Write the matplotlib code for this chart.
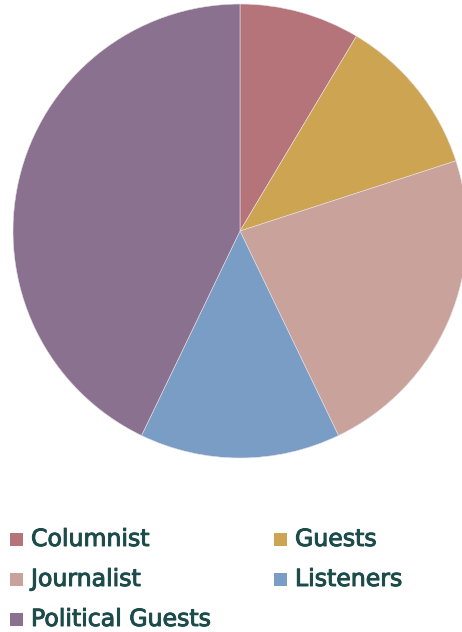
import matplotlib.pyplot as plt
import matplotlib.patheffects as pe
from matplotlib.patches import Rectangle

# share of each group
labels = ['Columnist', 'Guests', 'Journalist', 'Listeners', 'Political Guests']
values = [6, 8, 16, 10, 30]
colors = ['#b5737a', '#cca452', '#c9a39b', '#7a9dc5', '#89718f']

W, H = 462, 632
fig = plt.figure(figsize=(W / 100, H / 100), dpi=100)

# pie axes: square box in pixels, runs a little past the right edge
cx, cy, r = 240, 231, 227
ax = fig.add_axes([(cx - r) / W, (H - cy - r) / H, 2 * r / W, 2 * r / H])
ax.pie(values, colors=colors, startangle=90, counterclock=False, radius=1,
       wedgeprops=dict(edgecolor='#e8e0e4', linewidth=0.4))
ax.set_xlim(-1, 1)
ax.set_ylim(-1, 1)
ax.axis('off')

# legend, two columns, row-major order
text_color = '#1b4b4a'
for i, (lab, col) in enumerate(zip(labels, colors)):
    row, c = divmod(i, 2)
    x0 = 10 if c == 0 else 274
    y0 = 533 + row * 40
    fig.patches.append(Rectangle((x0 / W, 1 - (y0 + 13) / H), 13 / W, 13 / H,
                                 transform=fig.transFigure, facecolor=col,
                                 edgecolor='none'))
    fig.text((x0 + 21) / W, 1 - (y0 + 13) / H, lab, color=text_color,
             fontsize=17, family='DejaVu Sans', va='baseline', ha='left',
             path_effects=[pe.withStroke(linewidth=0.7, foreground=text_color)])

fig.savefig('out.png', dpi=100, facecolor='white')
